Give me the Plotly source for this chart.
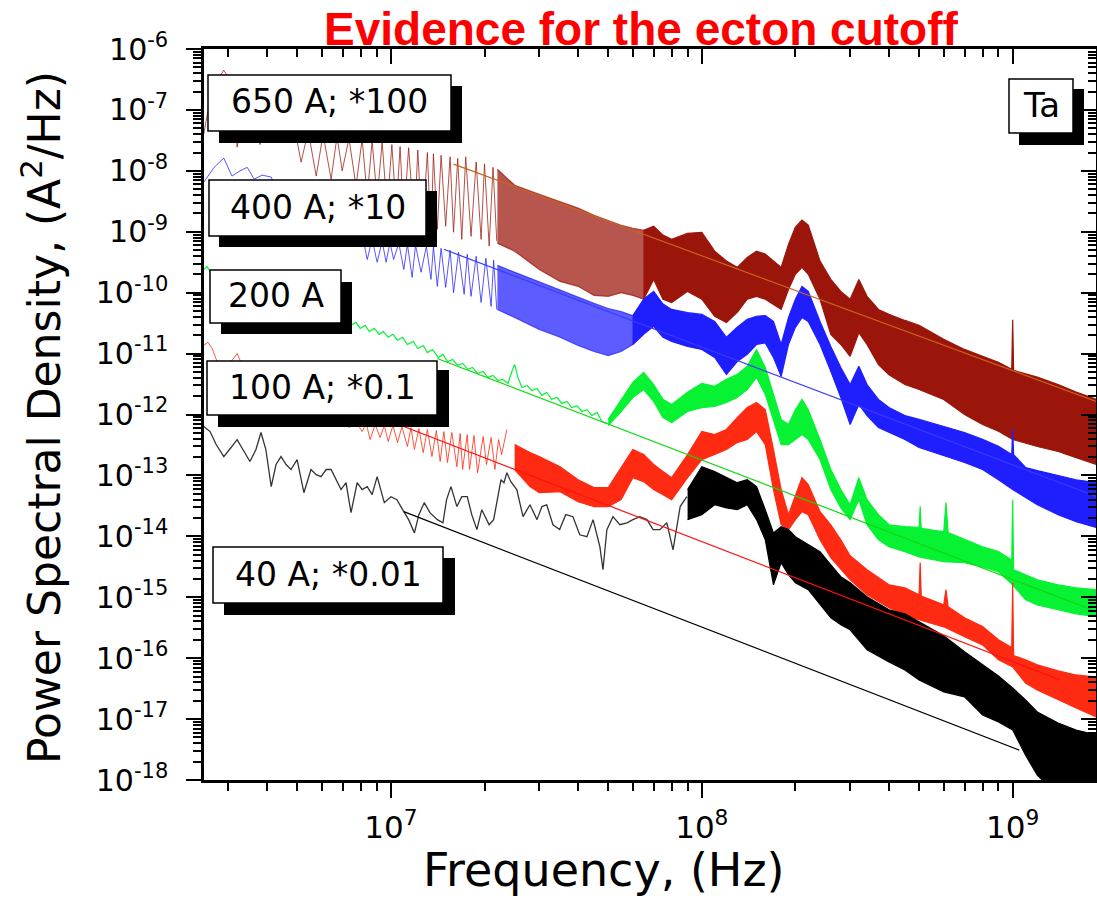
import plotly.graph_objects as go

# ------------------------------------------------------------------ data
# Frequencies in Hz, PSD in A^2/Hz
# 650 A (*100) — low-frequency trace with comb
f650_line = [2.50e6, 2.56e6, 2.66e6, 2.78e6, 2.90e6, 3.04e6, 3.13e6, 3.20e6, 3.34e6, 3.52e6,
             3.68e6, 3.79e6, 3.96e6, 4.15e6, 4.37e6, 4.60e6, 4.84e6, 5.14e6, 5.42e6, 5.75e6,
             6.05e6, 6.42e6, 6.71e6, 6.97e6, 7.33e6, 7.72e6, 8.08e6, 8.39e6, 8.70e6, 9.03e6,
             9.37e6, 9.72e6, 1.007e7, 1.04e7, 1.07e7, 1.10e7, 1.14e7, 1.19e7, 1.22e7, 1.26e7,
             1.31e7, 1.345e7, 1.37e7, 1.41e7, 1.45e7, 1.50e7, 1.55e7, 1.59e7, 1.64e7, 1.69e7,
             1.74e7, 1.81e7, 1.88e7, 1.95e7, 2.0e7, 2.07e7, 2.13e7, 2.19e7]
p650_line = [4.0e-8, 7.9e-8, 1.63e-7, 3.21e-7, 4.5e-7, 3.0e-7, 8.5e-8, 2.45e-8, 7.6e-8, 1.51e-7,
             5.9e-8, 2.7e-8, 7.6e-8, 1.25e-7, 4.8e-8, 4.0e-8, 7.0e-8, 1.39e-8, 4.5e-8, 8.2e-9,
             4.0e-8, 7.3e-9, 3.7e-8, 1.0e-8, 3.4e-8, 5.6e-9, 3.3e-8, 3.8e-9, 3.1e-8, 3.4e-9,
             3.0e-8, 2.3e-9, 2.7e-8, 2.1e-9, 2.5e-8, 1.6e-9, 2.4e-8, 1.23e-9, 2.2e-8, 9.8e-10,
             2.0e-8, 7.5e-10, 1.9e-8, 1.1e-9, 1.8e-8, 1.23e-9, 1.7e-8, 9.8e-10, 1.6e-8, 7.5e-10,
             1.7e-8, 8.4e-10, 1.4e-8, 7.5e-10, 1.3e-8, 5.8e-10, 1.14e-8, 7.0e-10]
f650_up = [2.2e7, 2.5e7, 3.0e7, 3.5e7, 4.0e7, 4.5e7, 5.0e7, 5.5e7, 6.0e7, 6.5e7,
           7.0e7, 7.5e7, 8.0e7, 9.0e7, 1.0e8, 1.1e8, 1.2e8, 1.3e8, 1.4e8, 1.5e8,
           1.6e8, 1.7e8, 1.8e8, 1.9e8, 2.0e8, 2.1e8, 2.2e8, 2.4e8, 2.6e8, 2.8e8,
           3.0e8, 3.2e8, 3.4e8, 3.7e8, 4.0e8, 4.5e8, 5.0e8, 6.0e8, 7.0e8, 8.0e8,
           9.0e8, 9.93e8, 1.0e9, 1.007e9, 1.2e9, 1.4e9, 1.6e9, 1.86e9]
p650_up = [1.06e-8, 5.8e-9, 4.1e-9, 3.1e-9, 2.44e-9, 1.87e-9, 1.55e-9, 1.28e-9, 1.14e-9, 1.06e-9,
           1.23e-9, 8.8e-10, 7.5e-10, 9.4e-10, 9.8e-10, 4.8e-10, 3.3e-10, 2.6e-10, 3.8e-10, 4.8e-10,
           4.3e-10, 3.3e-10, 2.6e-10, 6.2e-10, 1.19e-9, 1.55e-9, 1.28e-9, 3.3e-10, 1.65e-10, 1.05e-10,
           7.8e-11, 1.65e-10, 8.7e-11, 5.3e-11, 4.4e-11, 3.5e-11, 2.9e-11, 1.71e-11, 1.17e-11, 9.0e-12,
           7.2e-12, 5.5e-12, 3.6e-11, 5.3e-12, 4.1e-12, 3.1e-12, 2.33e-12, 1.77e-12]
f650_lo = [2.2e7, 2.5e7, 3.0e7, 3.5e7, 4.0e7, 4.5e7, 5.0e7, 5.5e7, 6.0e7, 6.5e7,
           7.0e7, 7.5e7, 8.0e7, 9.0e7, 1.0e8, 1.1e8, 1.2e8, 1.3e8, 1.4e8, 1.5e8,
           1.6e8, 1.7e8, 1.8e8, 1.9e8, 2.0e8, 2.1e8, 2.2e8, 2.4e8, 2.6e8, 2.8e8,
           3.0e8, 3.2e8, 3.4e8, 3.7e8, 4.0e8, 4.5e8, 5.0e8, 6.0e8, 7.0e8, 8.0e8,
           9.0e8, 1.0e9, 1.2e9, 1.4e9, 1.6e9, 1.86e9]
p650_lo = [6.5e-10, 4.8e-10, 2.4e-10, 1.53e-10, 1.27e-10, 9.0e-11, 8.7e-11, 1.0e-10, 9.0e-11, 7.8e-11,
           1.65e-10, 7.8e-11, 6.9e-11, 1.05e-10, 7.8e-11, 4.1e-11, 3.25e-11, 4.75e-11, 7.8e-11, 8.7e-11,
           7.8e-11, 6.5e-11, 5.3e-11, 1.13e-10, 2.0e-10, 2.6e-10, 2.0e-10, 7.8e-11, 2.07e-11, 1.41e-11,
           9.0e-12, 2.2e-11, 1.41e-11, 6.6e-12, 4.5e-12, 3.1e-12, 2.57e-12, 1.77e-12, 1.0e-12, 6.85e-13,
           5.3e-13, 3.9e-13, 2.98e-13, 2.47e-13, 1.96e-13, 1.51e-13]

# 400 A (*10)
f400_line = [2.50e6, 2.70e6, 2.90e6, 3.08e6, 3.27e6, 3.45e6, 3.63e6, 3.85e6, 4.12e6, 4.40e6,
             4.74e6, 5.10e6, 5.57e6, 6.0e6, 6.51e6, 7.01e6, 7.5e6, 7.96e6, 8.39e6, 8.70e6,
             9.03e6, 9.37e6, 9.65e6, 9.93e6, 1.02e7, 1.06e7, 1.10e7, 1.13e7, 1.17e7, 1.20e7,
             1.25e7, 1.30e7, 1.345e7, 1.37e7, 1.41e7, 1.45e7, 1.50e7, 1.55e7, 1.59e7, 1.65e7,
             1.72e7, 1.76e7, 1.81e7, 1.88e7, 1.95e7, 2.02e7, 2.10e7, 2.14e7, 2.19e7]
p400_line = [6.5e-9, 1.14e-8, 1.62e-8, 8.2e-9, 1.0e-8, 1.14e-8, 7.3e-9, 8.5e-9, 7.9e-9, 3.4e-9,
             1.33e-9, 2.85e-9, 9.1e-10, 2.18e-9, 7.5e-10, 1.73e-9, 6.2e-10, 1.33e-9, 3.5e-10, 7.5e-10,
             3.16e-10, 7.0e-10, 3.16e-10, 6.7e-10, 3.5e-10, 6.5e-10, 2.4e-10, 6.2e-10, 1.79e-10, 6.0e-10,
             2.16e-10, 5.8e-10, 1.65e-10, 5.6e-10, 1.27e-10, 5.35e-10, 1.22e-10, 4.96e-10, 1.0e-10, 4.6e-10,
             9.4e-11, 4.27e-10, 8.7e-11, 3.95e-10, 6.9e-11, 3.67e-10, 5.95e-11, 3.4e-10, 5.3e-11]
f400_up = [2.2e7, 2.5e7, 3.0e7, 3.5e7, 4.0e7, 4.5e7, 5.0e7, 5.5e7, 6.0e7, 6.5e7,
           7.0e7, 7.5e7, 8.0e7, 9.0e7, 1.0e8, 1.1e8, 1.2e8, 1.3e8, 1.4e8, 1.5e8,
           1.6e8, 1.7e8, 1.8e8, 1.9e8, 2.0e8, 2.1e8, 2.2e8, 2.4e8, 2.6e8, 2.8e8,
           3.0e8, 3.2e8, 3.4e8, 3.7e8, 4.0e8, 4.5e8, 5.0e8, 6.0e8, 7.0e8, 8.0e8,
           9.0e8, 9.93e8, 1.0e9, 1.007e9, 1.1e9, 1.2e9, 1.4e9, 1.6e9, 1.86e9]
p400_up = [2.8e-10, 2.16e-10, 1.49e-10, 1.09e-10, 8.4e-11, 6.67e-11, 5.5e-11, 4.9e-11, 4.2e-11, 7.8e-11,
           1.05e-10, 6.5e-11, 5.3e-11, 4.7e-11, 4.4e-11, 3.37e-11, 1.85e-11, 2.7e-11, 3.64e-11, 4.1e-11,
           4.2e-11, 3.37e-11, 1.41e-11, 3.9e-11, 7.8e-11, 1.27e-10, 1.05e-10, 3.37e-11, 1.31e-11, 5.9e-12,
           3.1e-12, 6.2e-12, 3.1e-12, 1.77e-12, 1.3e-12, 9.6e-13, 8.3e-13, 6.35e-13, 5.06e-13, 3.9e-13,
           3.0e-13, 2.2e-13, 5.7e-13, 2.2e-13, 1.35e-13, 1.2e-13, 9.9e-14, 8.5e-14, 7.6e-14]
f400_lo = [2.2e7, 2.5e7, 3.0e7, 3.5e7, 4.0e7, 4.5e7, 5.0e7, 5.5e7, 6.0e7, 6.5e7,
           7.0e7, 7.5e7, 8.0e7, 9.0e7, 1.0e8, 1.1e8, 1.2e8, 1.3e8, 1.4e8, 1.5e8,
           1.6e8, 1.7e8, 1.8e8, 1.9e8, 2.0e8, 2.1e8, 2.2e8, 2.4e8, 2.6e8, 2.8e8,
           3.0e8, 3.2e8, 3.4e8, 3.7e8, 4.0e8, 4.5e8, 5.0e8, 6.0e8, 7.0e8, 8.0e8,
           9.0e8, 1.0e9, 1.2e9, 1.4e9, 1.6e9, 1.86e9]
p400_lo = [5.3e-11, 3.9e-11, 2.5e-11, 1.85e-11, 1.36e-11, 1.08e-11, 9.3e-12, 1.08e-11, 1.41e-11, 2.07e-11,
           2.8e-11, 1.85e-11, 1.58e-11, 1.31e-11, 1.17e-11, 8.66e-12, 4.55e-12, 7.4e-12, 9.7e-12, 1.41e-11,
           1.5e-11, 8.66e-12, 4.2e-12, 1.41e-11, 2.7e-11, 3.9e-11, 3.37e-11, 1.41e-11, 5.1e-12, 1.9e-12,
           6.85e-13, 1.46e-12, 9.6e-13, 6.1e-13, 5.06e-13, 3.9e-13, 2.87e-13, 2.1e-13, 1.63e-13, 1.25e-13,
           8.5e-14, 5.85e-14, 3.3e-14, 2.27e-14, 1.74e-14, 1.39e-14]

# 200 A
f200_line = [2.50e6, 2.56e6, 2.62e6, 3.04e6, 3.79e6, 4.74e6, 5.92e6, 7.12e6, 7.5e6, 7.72e6,
             7.96e6, 8.26e6, 8.52e6, 8.84e6, 9.17e6, 9.45e6, 9.80e6, 1.015e7, 1.05e7, 1.09e7,
             1.13e7, 1.18e7, 1.22e7, 1.27e7, 1.31e7, 1.36e7, 1.42e7, 1.47e7, 1.52e7, 1.58e7,
             1.64e7, 1.70e7, 1.77e7, 1.83e7, 1.90e7, 1.98e7, 2.05e7, 2.13e7, 2.21e7, 2.29e7,
             2.38e7, 2.45e7, 2.50e7, 2.56e7, 2.64e7, 2.74e7, 2.84e7, 2.95e7, 3.06e7, 3.17e7,
             3.29e7, 3.42e7, 3.55e7, 3.68e7, 3.82e7, 3.96e7, 4.12e7, 4.27e7, 4.43e7, 4.60e7,
             4.77e7, 4.95e7]
p200_line = [2.4e-10, 2.7e-10, 2.25e-10, 1.65e-10, 9.4e-11, 6.4e-11, 4.4e-11, 3.37e-11, 3.0e-11, 3.25e-11,
             2.59e-11, 2.9e-11, 2.3e-11, 2.59e-11, 2.07e-11, 2.3e-11, 1.85e-11, 2.07e-11, 1.65e-11, 1.85e-11,
             1.41e-11, 1.58e-11, 1.21e-11, 1.36e-11, 1.04e-11, 1.17e-11, 8.66e-12, 9.7e-12, 7.4e-12, 8.0e-12,
             6.4e-12, 6.9e-12, 5.5e-12, 5.9e-12, 4.73e-12, 5.1e-12, 4.06e-12, 4.38e-12, 3.62e-12, 3.77e-12,
             3.24e-12, 5.1e-12, 6.64e-12, 4.06e-12, 2.78e-12, 3.0e-12, 2.48e-12, 2.68e-12, 2.06e-12, 2.3e-12,
             1.77e-12, 1.9e-12, 1.52e-12, 1.64e-12, 1.3e-12, 1.4e-12, 1.12e-12, 1.2e-12, 9.6e-13, 1.08e-12,
             7.67e-13, 7.1e-13]
f200_up = [5.0e7, 5.5e7, 6.0e7, 6.5e7, 7.0e7, 7.5e7, 8.0e7, 9.0e7, 1.0e8, 1.1e8,
           1.2e8, 1.3e8, 1.4e8, 1.5e8, 1.6e8, 1.7e8, 1.8e8, 1.9e8, 2.0e8, 2.1e8,
           2.2e8, 2.4e8, 2.6e8, 2.8e8, 3.0e8, 3.2e8, 3.4e8, 3.7e8, 4.0e8, 4.5e8,
           5.0e8, 5.04e8, 5.08e8, 6.0e8, 6.1e8, 6.2e8, 7.0e8, 8.0e8, 9.0e8, 9.93e8,
           1.0e9, 1.007e9, 1.1e9, 1.2e9, 1.4e9, 1.6e9, 1.86e9]
p200_up = [8.3e-13, 1.77e-12, 3.36e-12, 4.9e-12, 3.1e-12, 1.77e-12, 1.46e-12, 2.33e-12, 3.24e-12, 2.9e-12,
           3.77e-12, 4.55e-12, 6.2e-12, 1.17e-11, 5.9e-12, 2.14e-12, 8.3e-13, 6.85e-13, 1.2e-12, 1.77e-12,
           1.2e-12, 3.9e-13, 1.25e-13, 5.85e-14, 3.3e-14, 9.2e-14, 4.0e-14, 2.27e-14, 1.55e-14, 1.44e-14,
           1.4e-14, 3.1e-14, 1.35e-14, 1.18e-14, 3.6e-14, 1.15e-14, 8.8e-15, 6.75e-15, 5.6e-15, 4.1e-15,
           4.0e-14, 2.83e-15, 2.34e-15, 1.93e-15, 1.6e-15, 1.43e-15, 1.33e-15]
f200_lo = [5.0e7, 5.5e7, 6.0e7, 6.5e7, 7.0e7, 7.5e7, 8.0e7, 9.0e7, 1.0e8, 1.1e8,
           1.2e8, 1.3e8, 1.4e8, 1.5e8, 1.6e8, 1.7e8, 1.8e8, 1.9e8, 2.0e8, 2.1e8,
           2.2e8, 2.4e8, 2.6e8, 2.8e8, 3.0e8, 3.2e8, 3.4e8, 3.7e8, 4.0e8, 4.5e8,
           5.0e8, 6.0e8, 7.0e8, 8.0e8, 9.0e8, 1.0e9, 1.1e9, 1.2e9, 1.4e9, 1.6e9, 1.86e9]
p200_lo = [6.6e-13, 1.12e-12, 1.9e-12, 2.57e-12, 1.64e-12, 8.9e-13, 7.4e-13, 1.12e-12, 1.3e-12, 1.36e-12,
           1.58e-12, 1.9e-12, 2.57e-12, 4.06e-12, 2.14e-12, 8.3e-13, 3.21e-13, 3.21e-13, 3.9e-13, 4.69e-13,
           3.9e-13, 1.82e-13, 5.85e-14, 2.94e-14, 1.88e-14, 4.0e-14, 1.55e-14, 8.8e-15, 6.75e-15, 5.6e-15,
           4.6e-15, 3.83e-15, 3.7e-15, 3.16e-15, 2.62e-15, 1.6e-15, 9.1e-16, 7.5e-16, 6.2e-16, 5.35e-16, 4.8e-16]

# 100 A (*0.1)
f100_line = [2.50e6, 2.58e6, 2.66e6, 2.76e6, 2.90e6, 3.06e6, 3.20e6, 3.32e6, 3.58e6, 3.85e6,
             4.24e6, 4.67e6, 5.10e6, 5.57e6, 6.14e6, 6.71e6, 7.33e6, 7.72e6, 8.08e6, 8.33e6,
             8.57e6, 8.90e6, 9.23e6, 9.52e6, 9.80e6, 1.015e7, 1.05e7, 1.085e7, 1.13e7, 1.16e7,
             1.19e7, 1.23e7, 1.27e7, 1.31e7, 1.355e7, 1.40e7, 1.44e7, 1.48e7, 1.52e7, 1.57e7,
             1.63e7, 1.67e7, 1.70e7, 1.76e7, 1.79e7, 1.85e7, 1.90e7, 1.98e7, 2.03e7, 2.10e7,
             2.16e7, 2.22e7, 2.27e7, 2.32e7, 2.36e7]
p100_line = [1.36e-11, 1.53e-11, 1.21e-11, 7.4e-12, 4.55e-12, 7.4e-12, 1.0e-11, 6.6e-12, 2.57e-12, 3.77e-12,
             1.77e-12, 2.57e-12, 1.2e-12, 1.77e-12, 8.3e-13, 1.2e-12, 6.1e-13, 7.67e-13, 5.25e-13, 7.1e-13,
             3.88e-13, 6.85e-13, 4.19e-13, 6.6e-13, 3.6e-13, 6.6e-13, 3.46e-13, 6.35e-13, 2.98e-13, 6.1e-13,
             2.66e-13, 5.88e-13, 2.37e-13, 5.67e-13, 2.04e-13, 5.45e-13, 1.69e-13, 5.25e-13, 1.63e-13, 5.06e-13,
             1.39e-13, 4.87e-13, 1.25e-13, 4.69e-13, 1.25e-13, 4.52e-13, 1.11e-13, 4.35e-13, 1.51e-13, 4.19e-13,
             1.25e-13, 3.88e-13, 2.2e-13, 3.88e-13, 5.67e-13]
f100_up = [2.5e7, 2.8e7, 3.0e7, 3.5e7, 4.0e7, 4.5e7, 5.0e7, 5.5e7, 6.0e7, 6.5e7,
           7.0e7, 7.5e7, 8.0e7, 9.0e7, 1.0e8, 1.1e8, 1.2e8, 1.3e8, 1.4e8, 1.5e8,
           1.6e8, 1.7e8, 1.8e8, 1.9e8, 2.0e8, 2.1e8, 2.2e8, 2.4e8, 2.6e8, 2.8e8,
           3.0e8, 3.4e8, 4.0e8, 4.5e8, 5.0e8, 5.04e8, 5.08e8, 6.0e8, 6.1e8, 6.2e8,
           7.0e8, 8.0e8, 9.0e8, 9.93e8, 1.0e9, 1.007e9, 1.1e9, 1.2e9, 1.4e9, 1.6e9, 1.86e9]
p100_up = [3.21e-13, 2.37e-13, 2.04e-13, 1.39e-13, 8.5e-14, 6.3e-14, 6.3e-14, 1.35e-13, 2.66e-13, 2.2e-13,
           1.51e-13, 1.16e-13, 9.2e-14, 2.2e-13, 5.25e-13, 4.69e-13, 5.67e-13, 8.9e-13, 1.3e-12, 1.58e-12,
           1.2e-12, 2.66e-13, 5.85e-14, 2.27e-14, 4.84e-14, 9.2e-14, 7.05e-14, 2.54e-14, 1.55e-14, 8.8e-15,
           4.8e-15, 2.83e-15, 1.6e-15, 1.43e-15, 1.1e-15, 3.7e-15, 1.05e-15, 7.5e-16, 1.33e-15, 7.0e-16,
           4.6e-16, 3.3e-16, 2.0e-16, 1.5e-16, 1.73e-15, 1.1e-16, 9.4e-17, 7.76e-17, 6.2e-17, 5.3e-17, 4.9e-17]
f100_lo = [2.5e7, 2.8e7, 3.0e7, 3.5e7, 4.0e7, 4.5e7, 5.0e7, 5.5e7, 6.0e7, 6.5e7,
           7.0e7, 7.5e7, 8.0e7, 9.0e7, 1.0e8, 1.1e8, 1.2e8, 1.3e8, 1.4e8, 1.5e8,
           1.6e8, 1.7e8, 1.8e8, 1.9e8, 2.0e8, 2.1e8, 2.2e8, 2.4e8, 2.6e8, 2.8e8,
           3.0e8, 3.4e8, 4.0e8, 4.5e8, 5.0e8, 6.0e8, 7.0e8, 8.0e8, 9.0e8, 1.0e9,
           1.1e9, 1.2e9, 1.4e9, 1.6e9, 1.86e9]
p100_lo = [1.25e-13, 6.55e-14, 5.2e-14, 5.4e-14, 3.7e-14, 3.08e-14, 3.08e-14, 4.0e-14, 9.2e-14, 7.9e-14,
           5.85e-14, 4.84e-14, 4.0e-14, 9.2e-14, 1.82e-13, 2.2e-13, 2.66e-13, 3.46e-13, 3.9e-13, 5.25e-13,
           3.21e-13, 5.85e-14, 1.55e-14, 1.29e-14, 1.88e-14, 2.54e-14, 2.27e-14, 8.8e-15, 4.45e-15, 2.83e-15,
           1.93e-15, 1.1e-15, 6.73e-16, 5.16e-16, 4.27e-16, 3.27e-16, 2.25e-16, 1.65e-16, 9.4e-17, 7.2e-17,
           3.9e-17, 3.0e-17, 2.07e-17, 1.53e-17, 1.08e-17]

# 40 A (*0.01)
f40_line = [2.5e6, 2.62e6, 2.74e6, 2.90e6, 3.06e6, 3.20e6, 3.37e6, 3.52e6, 3.68e6, 3.82e6,
            3.96e6, 4.12e6, 4.27e6, 4.43e6, 4.60e6, 4.77e6, 4.99e6, 5.25e6, 5.53e6, 5.75e6,
            5.96e6, 6.19e6, 6.42e6, 6.66e6, 6.91e6, 7.17e6, 7.44e6, 7.79e6, 8.08e6, 8.39e6,
            8.70e6, 9.03e6, 9.52e6, 1.0e7, 1.045e7, 1.10e7, 1.14e7, 1.19e7, 1.23e7, 1.28e7,
            1.335e7, 1.41e7, 1.47e7, 1.51e7, 1.56e7, 1.63e7, 1.69e7, 1.76e7, 1.82e7, 1.89e7,
            1.96e7, 2.07e7, 2.14e7, 2.26e7, 2.31e7, 2.36e7, 2.43e7, 2.54e7, 2.66e7, 2.80e7,
            2.95e7, 3.06e7, 3.17e7, 3.32e7, 3.49e7, 3.65e7, 3.85e7, 4.05e7, 4.27e7, 4.47e7,
            4.70e7, 4.81e7, 4.95e7, 5.18e7, 5.45e7, 5.75e7, 6.0e7, 6.32e7, 6.66e7, 6.97e7,
            7.33e7, 7.72e7, 8.08e7, 8.52e7, 8.95e7]
p40_line = [6.35e-13, 5.25e-13, 3.21e-13, 2.04e-13, 2.87e-13, 3.88e-13, 2.47e-13, 1.69e-13, 2.66e-13, 5.06e-13,
            2.66e-13, 6.55e-14, 1.51e-13, 2.04e-13, 1.51e-13, 1.25e-13, 1.82e-13, 5.2e-14, 1.25e-13, 1.03e-13,
            9.56e-14, 1.25e-13, 1.25e-13, 8.5e-14, 5.85e-14, 7.6e-14, 2.45e-14, 7.6e-14, 5.85e-14, 6.55e-14,
            4.84e-14, 9.56e-14, 3.57e-14, 4.48e-14, 4.0e-14, 2.54e-14, 1.88e-14, 1.14e-14, 2.27e-14, 3.57e-14,
            2.45e-14, 1.88e-14, 1.67e-14, 4.0e-14, 6.55e-14, 3.08e-14, 4.48e-14, 4.48e-14, 2.27e-14, 1.29e-14,
            2.74e-14, 1.55e-14, 1.88e-14, 8.5e-14, 7.6e-14, 1.11e-13, 7.9e-14, 5.85e-14, 2.1e-14, 3.3e-14,
            1.88e-14, 3.08e-14, 3.3e-14, 1.55e-14, 1.29e-14, 2.27e-14, 2.1e-14, 1.06e-14, 9.85e-15, 1.88e-14,
            6.75e-15, 2.83e-15, 1.29e-14, 2.1e-14, 1.55e-14, 1.67e-14, 1.88e-14, 2.1e-14, 1.88e-14, 1.29e-14,
            1.29e-14, 1.67e-14, 6.0e-15, 3.08e-14, 4.48e-14]
f40_band = [9.0e7, 1.0e8, 1.1e8, 1.2e8, 1.3e8, 1.4e8, 1.5e8, 1.6e8, 1.7e8, 1.8e8,
            1.9e8, 2.0e8, 2.2e8, 2.4e8, 2.6e8, 2.8e8, 3.0e8, 3.4e8, 4.0e8, 4.5e8,
            5.0e8, 6.0e8, 7.0e8, 8.0e8, 9.0e8, 1.0e9, 1.1e9, 1.2e9, 1.4e9, 1.6e9, 1.86e9]
p40_up = [5.85e-14, 1.39e-13, 1.16e-13, 9.2e-14, 7.6e-14, 8.5e-14, 6.55e-14, 2.74e-14, 1.14e-14, 1.44e-14,
          1.29e-14, 9.85e-15, 7.3e-15, 5.58e-15, 3.4e-15, 2.17e-15, 1.73e-15, 1.02e-15, 6.23e-16, 5.35e-16,
          3.95e-16, 2.33e-16, 1.27e-16, 7.76e-17, 5.1e-17, 3.25e-17, 2.07e-17, 1.31e-17, 8.6e-18, 6.6e-18, 5.5e-18]
p40_lo = [1.88e-14, 2.27e-14, 3.3e-14, 2.94e-14, 2.74e-14, 3.3e-14, 1.88e-14, 8.8e-15, 1.6e-15, 3.7e-15,
          2.34e-15, 1.73e-15, 1.33e-15, 7.5e-16, 4.6e-16, 3.53e-16, 2.92e-16, 1.37e-16, 8.7e-17, 6.4e-17,
          4.4e-17, 2.8e-17, 2.32e-17, 1.17e-17, 8.96e-18, 6.6e-18, 2.56e-18, 1.2e-18, 5.7e-19, 4.8e-19, 4.8e-19]

# power-law fit lines (end points)
fit650_f, fit650_p = [1.59e7, 1.86e9], [1.29e-8, 1.63e-12]
fit400_f, fit400_p = [1.48e7, 1.86e9], [5.15e-10, 4.5e-14]
fit200_f, fit200_p = [1.41e7, 1.86e9], [8.3e-12, 5.8e-16]
fit100_f, fit100_p = [1.10e7, 1.42e9], [6.34e-13, 4.4e-17]
fit40_f, fit40_p = [1.10e7, 1.05e9], [2.54e-14, 3.1e-18]

labels = ["650 A; *100", "400 A; *10", "200 A", "100 A; *0.1", "40 A; *0.01"]
material = "Ta"
x_ticks = [1e7, 1e8, 1e9]
x_ticktext = ["10<sup>7</sup>", "10<sup>8</sup>", "10<sup>9</sup>"]
y_ticks = [1e-6, 1e-7, 1e-8, 1e-9, 1e-10, 1e-11, 1e-12, 1e-13, 1e-14, 1e-15, 1e-16, 1e-17, 1e-18]
y_ticktext = ["10<sup>-%d</sup>" % k for k in range(6, 19)]

# ------------------------------------------------------------------ styling
C650, C400, C200, C100, C40 = "#9b150b", "#1e1eff", "#06f233", "#ff2a12", "#000000"
FONT = "DejaVu Sans"
W, H = 1097, 899
L, T, R, B = 204, 49, 1096, 780          # plot area in pixels


def px(x):
    return (x - L) / (R - L)


def py(y):
    return 1 - (y - T) / (B - T)


def rgba(hexc, a):
    h = hexc.lstrip("#")
    return "rgba(%d,%d,%d,%.2f)" % (int(h[0:2], 16), int(h[2:4], 16), int(h[4:6], 16), a)


fig = go.Figure()


def add_band(fu, pu, fl, pl, color, fmin=0, fmax=1e12, alpha=1.0):
    xu = [f for f in fu if fmin <= f <= fmax]
    yu = [p for f, p in zip(fu, pu) if fmin <= f <= fmax]
    xl = [f for f in fl if fmin <= f <= fmax]
    yl = [p for f, p in zip(fl, pl) if fmin <= f <= fmax]
    fig.add_trace(go.Scatter(x=xu + xl[::-1], y=yu + yl[::-1], mode="lines", fill="toself",
                             fillcolor=rgba(color, alpha), line=dict(color=rgba(color, alpha), width=1.2),
                             hoverinfo="skip", showlegend=False))


def add_line(f, p, color, width=1.0, alpha=1.0, axes=("x", "y")):
    fig.add_trace(go.Scatter(x=f, y=p, mode="lines", line=dict(color=rgba(color, alpha), width=width),
                             hoverinfo="skip", showlegend=False, xaxis=axes[0], yaxis=axes[1]))


# 650 A
add_line(f650_line, p650_line, C650, 1.0, 0.75)
add_band(f650_up, p650_up, f650_lo, p650_lo, C650, fmax=6.5e7, alpha=0.72)
add_band(f650_up, p650_up, f650_lo, p650_lo, C650, fmin=6.5e7)
# 400 A
add_line(f400_line, p400_line, C400, 1.0, 0.75)
add_band(f400_up, p400_up, f400_lo, p400_lo, C400, fmax=6.0e7, alpha=0.72)
add_band(f400_up, p400_up, f400_lo, p400_lo, C400, fmin=6.0e7)
# 200 A
add_line(f200_line, p200_line, C200, 1.2)
add_band(f200_up, p200_up, f200_lo, p200_lo, C200)
# 100 A
add_line(f100_line, p100_line, C100, 1.0, 0.8)
add_band(f100_up, p100_up, f100_lo, p100_lo, C100)
# 40 A
add_line(f40_line, p40_line, C40, 1.3, 0.8)
add_band(f40_band, p40_up, f40_band, p40_lo, C40)

# fit lines on the overlay axes (same scales, drawn on top)
add_line(fit650_f, fit650_p, "#c8641e", 1.2, axes=("x2", "y2"))
add_line(fit400_f, fit400_p, "#3a3aff", 1.2, axes=("x2", "y2"))
add_line(fit200_f, fit200_p, "#10d810", 1.2, axes=("x2", "y2"))
add_line(fit100_f, fit100_p, "#ff1010", 1.2, axes=("x2", "y2"))
add_line(fit40_f, fit40_p, "#000000", 1.2, axes=("x2", "y2"))

xr = [6.3987, 9.268]
yr = [-18, -6]
axis_common = dict(type="log", showgrid=False, zeroline=False, showline=True, linecolor="black",
                   linewidth=2.5, tickcolor="black", tickwidth=2, ticklen=15)
minor_out = dict(dtick="D1", ticks="outside", ticklen=8, tickwidth=2, tickcolor="black", showgrid=False)
minor_in = dict(dtick="D1", ticks="inside", ticklen=8, tickwidth=2, tickcolor="black", showgrid=False)

fig.update_layout(
    width=W, height=H, autosize=False,
    margin=dict(l=L, r=W - R, t=T, b=H - B, pad=0),
    paper_bgcolor="white", plot_bgcolor="white", showlegend=False,
    xaxis=dict(axis_common, range=xr, tickmode="array", tickvals=x_ticks, ticktext=x_ticktext,
               ticks="outside", ticklabelstandoff=3, automargin=False,
               tickfont=dict(family=FONT, size=31, color="black"), minor=minor_out),
    yaxis=dict(axis_common, range=yr, tickmode="array", tickvals=y_ticks, ticktext=y_ticktext,
               ticks="outside", ticklabelstandoff=12, automargin=False,
               tickfont=dict(family=FONT, size=30, color="black"), minor=minor_out),
    xaxis2=dict(axis_common, range=xr, overlaying="x", side="top", anchor="y2", tickmode="array",
                tickvals=x_ticks, ticks="inside", showticklabels=False, minor=minor_in),
    yaxis2=dict(axis_common, range=yr, overlaying="y", side="right", anchor="x2", tickmode="array",
                tickvals=y_ticks, ticks="inside", showticklabels=False, minor=minor_in),
)

# label boxes with drop shadows (pixel geometry of the original)
boxes = [  # (box x0, y0, x1, y1), shadow (x0, y0, x1, y1), text
    ((208, 75, 451, 131), (219, 86, 462, 143), labels[0]),
    ((209, 180, 426, 236), (219, 191, 437, 247), labels[1]),
    ((210, 270, 341, 323), (221, 282, 352, 334), labels[2]),
    ((207, 361, 437, 415), (218, 370, 449, 427), labels[3]),
    ((213, 547, 443, 603), (224, 558, 455, 615), labels[4]),
    ((1009, 79, 1073, 133), (1019, 89, 1084, 145), material),
]
shapes = []
annotations = []
for (bx0, by0, bx1, by1), (sx0, sy0, sx1, sy1), txt in boxes:
    shapes.append(dict(type="rect", xref="paper", yref="paper", x0=px(sx0), x1=px(sx1), y0=py(sy1), y1=py(sy0),
                       fillcolor="black", line=dict(width=0), layer="above"))
    shapes.append(dict(type="rect", xref="paper", yref="paper", x0=px(bx0), x1=px(bx1), y0=py(by1), y1=py(by0),
                       fillcolor="white", line=dict(color="black", width=1.5), layer="above"))
    annotations.append(dict(text=txt, xref="paper", yref="paper", x=px((bx0 + bx1) / 2), y=py((by0 + by1) / 2 - 1),
                            xanchor="center", yanchor="middle", showarrow=False,
                            font=dict(family=FONT, size=34 if txt == material else 33, color="black")))

annotations.append(dict(text="<b>Evidence for the ecton cutoff</b>", xref="paper", yref="paper",
                        x=px(641), y=py(29), xanchor="center", yanchor="middle", showarrow=False,
                        font=dict(family="Liberation Sans, Arial", size=46, color="#ff0000")))
annotations.append(dict(text="Frequency, (Hz)", xref="paper", yref="paper",
                        x=px(604), y=py(870), xanchor="center", yanchor="middle", showarrow=False,
                        font=dict(family=FONT, size=46, color="black")))
annotations.append(dict(text="Power Spectral Density, (A<sup>2</sup>/Hz)", xref="paper", yref="paper",
                        x=px(41), y=py(418), xanchor="center", yanchor="middle", showarrow=False, textangle=-90,
                        font=dict(family=FONT, size=44, color="black")))

fig.update_layout(shapes=shapes, annotations=annotations)
fig.write_html("out.html", config={"displayModeBar": False},
               post_script="document.body.style.margin='0';document.body.style.padding='0';")
